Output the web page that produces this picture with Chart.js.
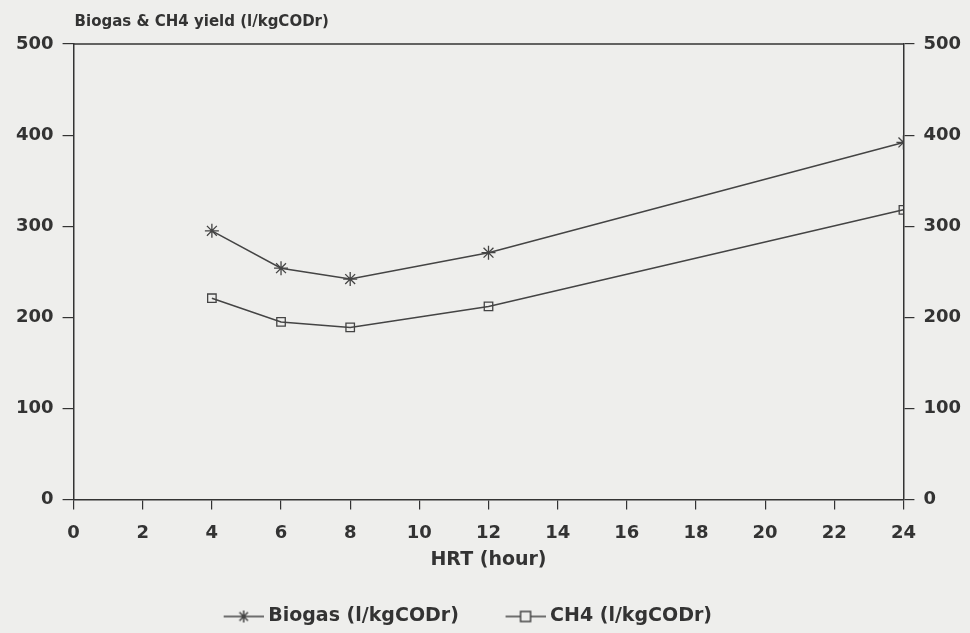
<!DOCTYPE html>
<html>
<head>
<meta charset="utf-8">
<script src="https://cdn.jsdelivr.net/npm/chart.js@4"></script>
<style>
  html, body { margin: 0; padding: 0; background: #eeeeec; }
  #wrap { width: 970px; height: 633px; }
</style>
</head>
<body>
<div id="wrap"><canvas id="yieldChart"></canvas></div>
<script>
const hrt = [4, 6, 8, 12, 24];
const biogas = [295, 254, 242, 271, 392];
const ch4 = [221, 195, 189, 212, 318];
const xTicks = [0, 2, 4, 6, 8, 10, 12, 14, 16, 18, 20, 22, 24];
const yTicks = [0, 100, 200, 300, 400, 500];

const ink = "#333";
const fam = "'DejaVu Sans', 'Liberation Sans', Arial, sans-serif";
const tickFont = { family: fam, size: 18, weight: "bold" };
const bigFont = { family: fam, size: 19, weight: "bold" };

// top border + axis title drawn above the plot
const frame = {
  id: "frame",
  afterDraw(chart) {
    const { ctx, chartArea } = chart;
    ctx.save();
    ctx.strokeStyle = ink;
    ctx.lineWidth = 1.5;
    ctx.beginPath();
    ctx.moveTo(chartArea.left, chartArea.top);
    ctx.lineTo(chartArea.right, chartArea.top);
    ctx.stroke();
    ctx.fillStyle = ink;
    ctx.font = "bold 15px " + fam;
    ctx.textBaseline = "middle";
    ctx.fillText("Biogas & CH4 yield (l/kgCODr)", chartArea.left + 1, chartArea.top - 22);
    ctx.restore();
  },
};

// legend symbol: short line with the marker on it (10px blank on the left)
function legendIcon(style) {
  const c = document.createElement("canvas");
  c.width = 50; c.height = 16;
  const g = c.getContext("2d");
  g.strokeStyle = "#444";
  g.lineWidth = 1.5;
  g.beginPath();
  g.moveTo(10, 8); g.lineTo(50, 8);
  if (style === "star") {
    for (let a = 0; a < 4; a++) {
      const t = a * Math.PI / 4;
      g.moveTo(30 - 6 * Math.cos(t), 8 - 6 * Math.sin(t));
      g.lineTo(30 + 6 * Math.cos(t), 8 + 6 * Math.sin(t));
    }
    g.stroke();
  } else {
    g.stroke();
    g.fillStyle = "#eeeeec";
    g.fillRect(25, 3, 10, 10);
    g.strokeRect(25, 3, 10, 10);
  }
  return c;
}

const pts = (ys) => hrt.map((x, i) => ({ x: x, y: ys[i] }));

new Chart(document.getElementById("yieldChart").getContext("2d"), {
  type: "line",
  data: {
    datasets: [
      {
        label: "Biogas (l/kgCODr)",
        data: pts(biogas),
        borderColor: "#444",
        backgroundColor: "#444",
        borderWidth: 1.5,
        pointStyle: "star",
        pointRadius: 7,
        pointBorderWidth: 1.3,
      },
      {
        label: "CH4 (l/kgCODr)",
        data: pts(ch4),
        borderColor: "#444",
        backgroundColor: "rgba(0,0,0,0)",
        borderWidth: 1.5,
        pointStyle: "rect",
        pointRadius: 6,
        pointBorderWidth: 1.3,
      },
    ],
  },
  options: {
    responsive: true,
    maintainAspectRatio: false,
    animation: false,
    layout: { padding: { top: 44, left: 7, right: 0, bottom: -3 } },
    scales: {
      x: {
        type: "linear",
        min: 0,
        max: 24,
        afterBuildTicks: (axis) => { axis.ticks = xTicks.map((v) => ({ value: v })); },
        ticks: { color: ink, font: tickFont, padding: 13, maxRotation: 0 },
        grid: { drawOnChartArea: false, color: ink, tickLength: 10, lineWidth: 1.2 },
        border: { color: ink, width: 1.5 },
        title: { display: true, text: "HRT (hour)", color: ink, font: bigFont, padding: { top: -9, bottom: 34 } },
      },
      y: {
        min: 0,
        max: 500,
        afterBuildTicks: (axis) => { axis.ticks = yTicks.map((v) => ({ value: v })); },
        ticks: { color: ink, font: tickFont, padding: 9 },
        grid: { drawOnChartArea: false, color: ink, tickLength: 11, lineWidth: 1.2 },
        border: { color: ink, width: 1.5 },
      },
      y2: {
        position: "right",
        display: true,
        min: 0,
        max: 500,
        afterBuildTicks: (axis) => { axis.ticks = yTicks.map((v) => ({ value: v })); },
        ticks: { color: ink, font: tickFont, padding: 9 },
        grid: { drawOnChartArea: false, color: ink, tickLength: 11, lineWidth: 1.2 },
        border: { color: ink, width: 1.5 },
      },
    },
    plugins: {
      legend: {
        position: "bottom",
        labels: {
          color: ink,
          font: bigFont,
          usePointStyle: true,
          pointStyleWidth: 40,
          padding: 2,
          generateLabels: (chart) => {
            const items = Chart.defaults.plugins.legend.labels.generateLabels(chart);
            items.forEach((it, i) => {
              it.pointStyle = legendIcon(i === 0 ? "star" : "rect");
              it.text = it.text + (i === 0 ? "      " : "       ");
            });
            return items;
          },
        },
      },
      tooltip: { enabled: false },
    },
  },
  plugins: [frame],
});
</script>
</body>
</html>
